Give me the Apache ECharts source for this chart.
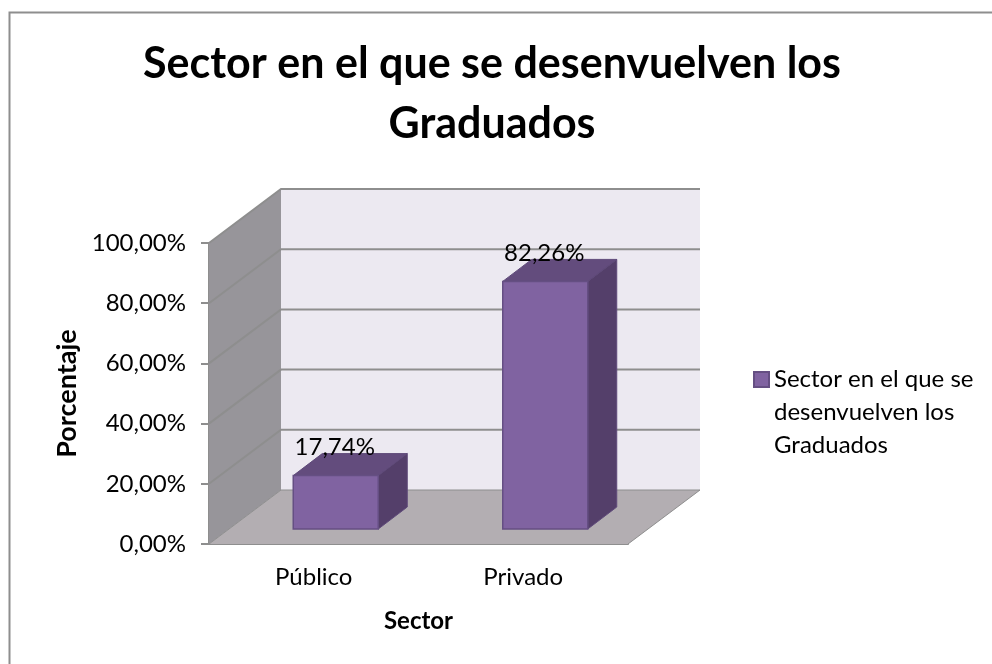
<!DOCTYPE html>
<html>
<head>
<meta charset="utf-8">
<style>html,body{margin:0;padding:0;background:#fff}#c{width:992px;height:664px}</style>
<script src="https://cdn.jsdelivr.net/npm/echarts@6/dist/echarts.min.js"></script>
</head>
<body>
<div id="c"></div>
<script>
var categories = ['Público', 'Privado'];
var seriesName = 'Sector en el que se desenvuelven los Graduados';
var values = [17.74, 82.26];
var yTicks = [0, 20, 40, 60, 80, 100];
var font = 'Lato';

// Oblique projection of the 3D box
var depthX = 72, depthY = -54;
var barInsetX = 20, barInsetY = -15, barDepthX = 29, barDepthY = -22;
var barWidthRatio = 85 / 209.5;

function fmt(v) { return v.toFixed(2).replace('.', ',') + '%'; }
function poly(points, fill, stroke, lw) {
  return { type: 'polygon', shape: { points: points },
    style: { fill: fill, stroke: stroke || null, lineWidth: lw || 0 } };
}

var chart = echarts.init(document.getElementById('c'), null, { renderer: 'canvas' });
chart.setOption({
  animation: false,
  backgroundColor: '#fff',
  graphic: [{
    type: 'polyline', silent: true, z: 0,
    shape: { points: [[9.5, 664], [9.5, 12.5], [992, 12.5]] },
    style: { fill: null, stroke: '#8e8e8e', lineWidth: 2 }
  }],
  title: {
    text: 'Sector en el que se desenvuelven los\nGraduados',
    left: 492, top: 34, padding: 0, textAlign: 'center',
    textStyle: { fontFamily: font, fontWeight: 'bold', fontSize: 43, lineHeight: 60, color: '#000' }
  },
  legend: {
    left: 753, top: 297, padding: 0, orient: 'vertical',
    itemWidth: 15, itemHeight: 15, itemGap: 0, icon: 'rect',
    data: [seriesName],
    formatter: function () { return '\n\nSector en el que se\ndesenvuelven los\nGraduados'; },
    textStyle: { fontFamily: font, fontSize: 24, lineHeight: 33, color: '#000' }
  },
  grid: { left: 209, right: 364, top: 243, bottom: 120 },
  xAxis: {
    type: 'category', data: categories,
    name: 'Sector', nameLocation: 'middle', nameGap: 65,
    nameTextStyle: { fontFamily: font, fontWeight: 'bold', fontSize: 24, color: '#000' },
    axisLine: { lineStyle: { color: '#8e8e8e', width: 2 } },
    axisTick: { show: false },
    axisLabel: { fontFamily: font, fontSize: 24, color: '#000', margin: 21 }
  },
  yAxis: {
    type: 'value', min: 0, max: 100, interval: 20,
    name: 'Porcentaje', nameLocation: 'middle', nameGap: 128,
    nameTextStyle: { fontFamily: font, fontWeight: 'bold', fontSize: 27, color: '#000' },
    axisLine: { show: true, lineStyle: { color: '#8e8e8e', width: 2 } },
    axisTick: { show: true, length: 8, lineStyle: { color: '#8e8e8e', width: 2 } },
    splitLine: { show: false },
    axisLabel: { fontFamily: font, fontSize: 24, color: '#000', margin: 23, padding: [4, 0, 0, 0],
      formatter: function (v) { return fmt(v); } }
  },
  series: [{
    type: 'custom', name: 'walls', z: 1, silent: true,
    data: yTicks,
    encode: { y: 0 },
    renderItem: function (params, api) {
      var t = api.value(0);
      var p0 = api.coord([0, t]);
      var xL = params.coordSys.x, xR = xL + params.coordSys.width;
      var y = p0[1];
      var children = [];
      if (params.dataIndex === 0) {
        var top = api.coord([0, 100])[1];
        var corner = function (x, yy) { return [x, yy]; };
        children.push(poly([corner(xL + depthX, y + depthY), corner(xR + depthX, y + depthY), corner(xR, y), corner(xL, y)], '#b3aeb2'));
        children.push(poly([corner(xL, y), corner(xL + depthX, y + depthY), corner(xL + depthX, top + depthY), corner(xL, top)], '#97959a'));
        children.push(poly([corner(xL + depthX, y + depthY), corner(xR + depthX, y + depthY), corner(xR + depthX, top + depthY), corner(xL + depthX, top + depthY)], '#ece9f1'));
        children.push({ type: 'polyline', shape: { points: [[xL, y], [xL + depthX, y + depthY], [xR + depthX, y + depthY], [xR, y]] },
          style: { fill: null, stroke: '#8e8e8e', lineWidth: 1 } });
      } else {
        children.push({ type: 'polyline', shape: { points: [[xL, y], [xL + depthX, y + depthY], [xR + depthX, y + depthY]] },
          style: { fill: null, stroke: '#8e8e8e', lineWidth: 2 } });
      }
      return { type: 'group', children: children };
    }
  }, {
    type: 'custom', name: seriesName, z: 3,
    itemStyle: { color: '#8063a1', borderColor: '#654f83', borderWidth: 1 },
    data: values.map(function (v, i) { return [i, v]; }),
    encode: { x: 0, y: 1 },
    renderItem: function (params, api) {
      var i = api.value(0), v = api.value(1);
      var top = api.coord([i, v]), base = api.coord([i, 0]);
      var w = api.size([1, 0])[0] * barWidthRatio;
      var x0 = top[0] + barInsetX - w / 2 + 2, x1 = x0 + w;
      var yT = top[1] + barInsetY, yB = base[1] + barInsetY;
      var dx = barDepthX, dy = barDepthY;
      return { type: 'group', children: [
        poly([[x0, yT], [x0 + dx, yT + dy], [x1 + dx, yT + dy], [x1, yT]], '#634c7d', '#5f4a7a', 1),
        poly([[x1, yT], [x1 + dx, yT + dy], [x1 + dx, yB + dy], [x1, yB]], '#543f6a', '#5f4a7a', 1),
        poly([[x0, yT], [x1, yT], [x1, yB], [x0, yB]], '#8063a1', '#654f83', 1.5),
        { type: 'text', z2: 10, style: { x: (x0 + x1) / 2 - 1, y: yT - 28, text: fmt(v),
            align: 'center', verticalAlign: 'middle', fontFamily: font, fontSize: 24, fill: '#000' } }
      ] };
    }
  }]
});
</script>
</body>
</html>
